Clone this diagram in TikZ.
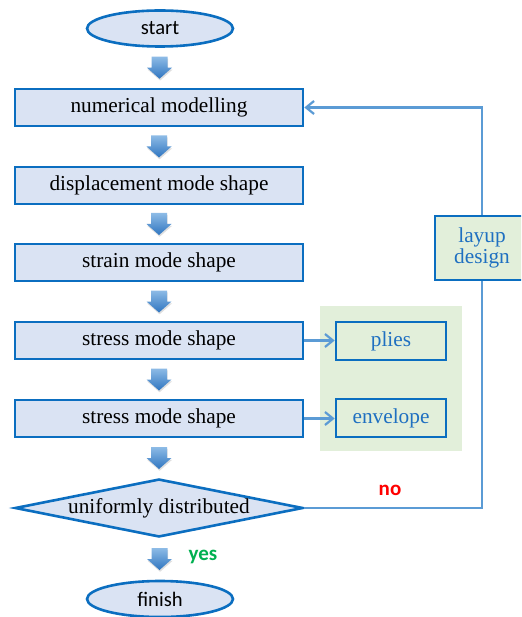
\documentclass[tikz,border=0pt]{standalone}
\usepackage{fontspec}
\setmainfont{Liberation Serif}
\newfontfamily\calib{Carlito}
\usetikzlibrary{shapes.geometric,arrows.meta,shadows}
\definecolor{boxfill}{HTML}{DAE3F3}
\definecolor{boxdraw}{HTML}{0B6EC0}
\definecolor{conn}{HTML}{5B9BD5}
\definecolor{greenbg}{HTML}{E2EFDA}
\definecolor{bluetext}{HTML}{1F70C1}
\definecolor{yesgreen}{HTML}{00B050}
\definecolor{arrtop}{HTML}{8DBBE6}
\definecolor{arrbot}{HTML}{2F75C0}
\begin{document}
\begin{tikzpicture}[x=1pt,y=-1pt,
  stepbox/.style={draw=boxdraw, fill=boxfill, line width=2.6pt, minimum width=288pt, minimum height=37pt, inner sep=0pt, font=\fontsize{21.3}{24}\selectfont},
  term/.style={ellipse, draw=boxdraw, fill=boxfill, line width=2.6pt, minimum width=146pt, minimum height=36pt, inner sep=0pt, font=\calib\fontsize{20.6}{24}\selectfont},
  decide/.style={diamond, aspect=5, draw=boxdraw, fill=boxfill, line width=2.6pt, minimum width=288pt, minimum height=58pt, inner sep=0pt, font=\fontsize{21.3}{24}\selectfont},
  greenbox/.style={draw=boxdraw, fill=greenbg, line width=2.6pt, inner sep=0pt, text=bluetext, font=\fontsize{21.3}{24}\selectfont, align=center},
  conn/.style={draw=conn, line width=2.4pt},
  tip/.style={-{Straight Barb[length=8pt,width=13pt,line width=2.2pt]}},
  lbl/.style={font=\calib\bfseries\fontsize{21}{24}\selectfont},
  blockarrow/.style={top color=arrtop, bottom color=arrbot, draw=none, drop shadow={opacity=0.25, shadow xshift=0.6pt, shadow yshift=-1.8pt}}
]
\clip (0,0) rectangle (521,617);
\fill[white] (0,0) rectangle (521,617);
% green background
\fill[greenbg] (320,306) rectangle (462,451);

\node[term] (start) at (160,28.5) {start};
\node[stepbox] (n1) at (159,107.5) {numerical modelling};
\node[stepbox] (n2) at (159,185.5) {displacement mode shape};
\node[stepbox] (n3) at (159,262.5) {strain mode shape};
\node[stepbox] (n4) at (159,340.5) {stress mode shape};
\node[stepbox] (n5) at (159,418.5) {stress mode shape};
\node[decide] (d) at (159,508) {uniformly distributed};
\node[term] (finish) at (160,599) {finish};

\node[greenbox, minimum width=110pt, minimum height=38pt] (plies) at (391,341) {plies};
\node[greenbox, minimum width=110pt, minimum height=38pt] (env) at (391,418) {envelope};
\node[greenbox, minimum width=94pt, minimum height=64pt] (layup) at (482,248) {layup\\[-3pt]design};

% block arrows
\foreach \a/\b/\c in {start/n1/a1, n1/n2/a2, n2/n3/a3, n3/n4/a4, n4/n5/a5, n5/d/a6, d/finish/a7}{
  \path (\a.south) -- (\b.north) coordinate[midway] (\c);
  \shade[blockarrow, shift={(\c)}] (-8,-11) -- (8,-11) -- (8,0) -- (12.5,0) -- (0,11) -- (-12.5,0) -- (-8,0) -- cycle;
}

% connectors
\draw[conn, tip] (n4.east) -- (n4.east -| plies.west);
\draw[conn, tip] (n5.east) -- (n5.east -| env.west);
\draw[conn] (d.east) -| (layup.south);
\draw[conn, tip] (layup.north) |- (n1.east);

\node[lbl, text=red] (no) at (390,490) {no};
\node[lbl, text=yesgreen] (yes) at (203,557) {yes};
\end{tikzpicture}
\end{document}
